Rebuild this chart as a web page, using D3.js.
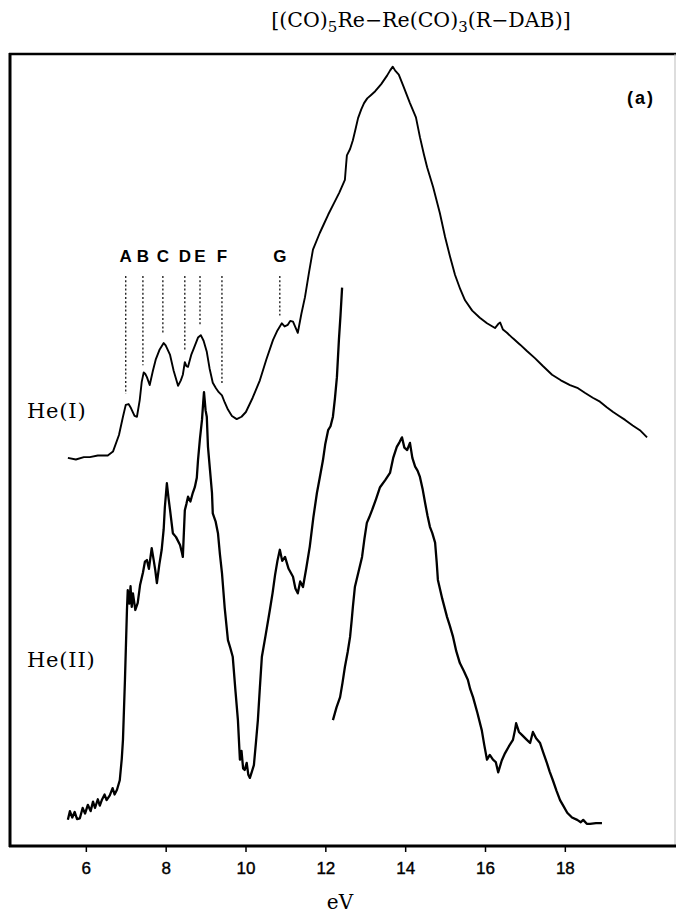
<!DOCTYPE html>
<html>
<head>
<meta charset="utf-8">
<script src="https://cdn.jsdelivr.net/npm/d3@7"></script>
<style>
  html, body { margin: 0; padding: 0; background: #fff; }
  svg { display: block; }
</style>
</head>
<body>
<svg id="chart" width="676" height="913"></svg>
<script>
// Photoelectron spectrum of [(CO)5Re-Re(CO)3(R-DAB)]: intensity (arb. units) vs binding energy (eV)

// He(I) spectrum, [eV, intensity]
const heI = [
  [5.55,49.0],[5.75,48.8],[5.95,49.1],[6.10,49.1],[6.30,49.3],[6.55,49.3],[6.68,49.8],
  [6.83,51.9],[6.93,54.2],[7.00,55.7],[7.07,55.8],[7.13,55.3],[7.22,54.3],[7.28,54.2],
  [7.35,56.3],[7.40,58.6],[7.45,59.8],[7.49,59.6],[7.53,59.2],[7.60,58.2],[7.68,60.0],
  [7.75,61.4],[7.85,62.7],[7.95,63.5],[8.00,63.2],[8.11,62.0],[8.20,60.0],[8.31,58.1],
  [8.38,58.8],[8.43,59.5],[8.48,61.1],[8.52,60.6],[8.56,60.5],[8.64,62.0],[8.71,62.9],
  [8.81,64.2],[8.88,64.5],[8.95,63.8],[9.03,62.4],[9.10,60.3],[9.18,58.5],[9.26,57.8],
  [9.33,57.3],[9.41,56.9],[9.48,56.0],[9.56,55.1],[9.66,54.3],[9.78,53.9],[9.90,54.2],
  [10.01,54.8],[10.18,56.6],[10.36,58.8],[10.52,61.4],[10.69,63.9],[10.80,65.1],[10.91,66.0],
  [10.98,65.6],[11.06,65.8],[11.12,66.3],[11.19,66.2],[11.26,65.4],[11.31,64.8],[11.40,67.2],
  [11.49,69.3],[11.59,72.4],[11.69,75.3],[11.86,77.4],[11.97,78.6],[12.07,79.7],[12.22,81.2],
  [12.35,82.5],[12.49,84.1],[12.52,86.0],[12.54,87.2],[12.62,88.0],[12.69,89.1],[12.76,90.6],
  [12.82,91.9],[12.90,93.0],[12.97,93.8],[13.05,94.4],[13.14,94.8],[13.25,95.3],[13.40,96.2],
  [13.55,97.3],[13.62,97.9],[13.69,98.4],[13.75,97.9],[13.84,97.4],[13.95,96.0],[14.12,93.8],
  [14.27,92.0],[14.37,89.5],[14.47,87.3],[14.55,85.7],[14.70,83.2],[14.87,79.9],[15.00,76.9],
  [15.12,74.5],[15.25,72.1],[15.38,70.3],[15.50,68.9],[15.68,67.6],[15.87,66.7],[16.05,66.0],
  [16.25,65.4],[16.33,65.9],[16.38,66.1],[16.45,65.2],[16.55,64.8],[16.70,64.1],[16.88,63.3],
  [17.05,62.5],[17.25,61.6],[17.45,60.6],[17.68,59.5],[17.90,58.8],[18.13,58.2],[18.33,57.8],
  [18.51,57.2],[18.70,56.6],[18.88,56.1],[19.05,55.4],[19.21,54.8],[19.36,54.3],[19.51,53.8],
  [19.70,53.1],[19.88,52.5],[20.06,51.6]
];

// He(II) spectrum, lower-energy scan, [eV, intensity]
const heIILow = [
  [5.55,3.3],[5.60,4.4],[5.66,3.6],[5.72,4.3],[5.78,3.4],[5.85,3.5],[5.92,4.8],[5.98,4.1],
  [6.05,5.2],[6.12,4.4],[6.18,5.6],[6.23,4.8],[6.30,5.9],[6.35,5.1],[6.40,5.8],[6.47,6.5],
  [6.52,5.8],[6.60,6.4],[6.67,7.3],[6.72,6.5],[6.78,7.1],[6.85,8.3],[6.90,11.0],[6.93,13.4],
  [6.98,21.0],[7.03,29.8],[7.05,32.3],[7.09,30.6],[7.12,32.8],[7.15,30.2],[7.18,31.9],
  [7.24,29.8],[7.30,30.7],[7.36,33.0],[7.43,34.5],[7.48,35.9],[7.53,36.1],[7.58,35.0],
  [7.65,37.6],[7.70,36.1],[7.74,34.8],[7.78,33.2],[7.84,35.5],[7.90,37.4],[7.95,40.0],
  [7.98,42.8],[8.03,45.8],[8.07,44.0],[8.11,42.4],[8.18,39.5],[8.26,39.0],[8.36,38.0],
  [8.40,37.2],[8.43,36.5],[8.48,42.4],[8.52,43.2],[8.56,44.1],[8.62,43.5],[8.68,44.6],
  [8.73,45.3],[8.78,46.5],[8.81,48.7],[8.86,51.5],[8.91,53.8],[8.94,56.0],[8.96,57.3],
  [9.00,55.0],[9.03,54.2],[9.06,50.4],[9.11,47.5],[9.16,44.6],[9.18,42.0],[9.25,41.0],
  [9.31,39.5],[9.36,36.8],[9.41,34.5],[9.48,30.0],[9.56,26.0],[9.62,25.0],[9.68,23.9],
  [9.75,19.5],[9.81,15.9],[9.86,10.9],[9.90,12.0],[9.94,9.8],[9.98,9.6],[10.03,10.5],
  [10.07,9.0],[10.11,8.6],[10.16,9.4],[10.21,10.2],[10.26,13.0],[10.31,15.9],[10.36,20.0],
  [10.41,23.9],[10.50,26.5],[10.61,29.8],[10.68,32.0],[10.74,34.2],[10.80,36.0],[10.86,37.4],
  [10.92,36.0],[10.99,36.5],[11.08,35.0],[11.19,34.0],[11.25,32.5],[11.31,31.9],[11.37,33.4],
  [11.44,32.7],[11.52,35.0],[11.61,37.8],[11.70,41.5],[11.79,44.6],[11.86,46.5],[11.94,48.7],
  [12.00,50.8],[12.07,52.5],[12.13,53.0],[12.19,54.2],[12.24,56.5],[12.29,59.2],[12.34,63.9],
  [12.38,67.0],[12.42,70.5]
];

// He(II) spectrum, higher-energy scan, [eV, intensity]
const heIIHigh = [
  [12.19,15.9],[12.28,17.5],[12.37,18.8],[12.43,20.6],[12.49,22.6],[12.56,24.5],[12.62,26.4],
  [12.66,28.5],[12.69,30.2],[12.74,32.7],[12.83,34.6],[12.92,36.5],[12.98,38.8],[13.04,40.8],
  [13.10,41.5],[13.17,42.4],[13.27,43.8],[13.37,45.3],[13.50,46.2],[13.62,47.1],[13.70,49.0],
  [13.79,50.4],[13.86,51.0],[13.92,51.6],[13.98,50.3],[14.05,50.0],[14.12,50.9],[14.18,49.0],
  [14.25,47.9],[14.31,47.4],[14.37,46.6],[14.44,45.0],[14.50,43.3],[14.56,41.7],[14.62,40.3],
  [14.68,39.5],[14.75,38.3],[14.79,35.8],[14.82,33.6],[14.93,31.2],[15.05,28.9],[15.12,27.8],
  [15.20,26.4],[15.28,24.6],[15.37,23.1],[15.47,22.1],[15.57,21.0],[15.63,19.8],[15.70,18.8],
  [15.81,16.8],[15.92,14.6],[15.98,12.8],[16.05,10.9],[16.12,11.5],[16.20,10.9],[16.27,10.6],
  [16.33,9.3],[16.42,10.8],[16.50,11.7],[16.60,12.6],[16.70,13.4],[16.75,14.6],[16.78,15.5],
  [16.85,14.4],[16.93,14.0],[17.03,13.5],[17.13,13.0],[17.20,14.4],[17.28,13.6],[17.38,13.0],
  [17.46,11.8],[17.55,10.5],[17.62,9.4],[17.70,8.3],[17.79,7.0],[17.88,5.8],[17.97,5.0],
  [18.06,4.2],[18.18,3.6],[18.31,3.3],[18.40,3.0],[18.46,3.3],[18.55,2.8],[18.63,2.8],
  [18.78,2.9],[18.93,2.9]
];

// Band assignments marked on the He(I) spectrum
const bandLabels   = ["A", "B", "C", "D", "E", "F", "G"];
const bandEnergies = [7.00, 7.43, 7.93, 8.48, 8.86, 9.41, 10.86];

// Energy axis ticks
const tickValues = [6, 8, 10, 12, 14, 16, 18];

const svg = d3.select("#chart");

const x = d3.scaleLinear().domain([4.1, 20.76]).range([10, 675]);
const y = d3.scaleLinear().domain([0, 100]).range([846, 54]);

const line = d3.line().x(d => x(d[0])).y(d => y(d[1]));

// Frame
svg.append("line").attr("x1", 10).attr("x2", 10).attr("y1", 53).attr("y2", 847)
  .attr("stroke", "#000").attr("stroke-width", 3);
svg.append("line").attr("x1", 9).attr("x2", 676).attr("y1", 54).attr("y2", 54)
  .attr("stroke", "#000").attr("stroke-width", 2.5);
svg.append("line").attr("x1", 675).attr("x2", 675).attr("y1", 54).attr("y2", 846)
  .attr("stroke", "#bbb").attr("stroke-width", 1);

// Energy axis
const axis = d3.axisBottom(x).tickValues(tickValues).tickSize(6).tickPadding(10)
  .tickFormat(d3.format("d"));
const gx = svg.append("g").attr("transform", "translate(0,846)").call(axis);
gx.select(".domain").remove();
svg.append("line").attr("x1", 9).attr("x2", 676).attr("y1", 846).attr("y2", 846)
  .attr("stroke", "#000").attr("stroke-width", 3);
gx.selectAll(".tick line").attr("stroke", "#000").attr("stroke-width", 1.5);
gx.selectAll(".tick text")
  .attr("font-family", "'Liberation Sans', Arial, sans-serif")
  .attr("font-size", 17).attr("fill", "#000")
  .attr("stroke", "#000").attr("stroke-width", 0.4);

svg.append("text").attr("x", 340).attr("y", 909)
  .attr("text-anchor", "middle")
  .attr("font-family", "'DejaVu Serif', serif").attr("font-size", 20)
  .text("eV");

// Spectra
svg.append("path").datum(heI).attr("d", line)
  .attr("fill", "none").attr("stroke", "#000").attr("stroke-width", 1.9)
  .attr("stroke-linejoin", "round");
[heIILow, heIIHigh].forEach(s => {
  svg.append("path").datum(s).attr("d", line)
    .attr("fill", "none").attr("stroke", "#000").attr("stroke-width", 2.3)
    .attr("stroke-linejoin", "round");
});

// Dotted band markers ending just above the He(I) trace
const heIAt = e => {
  const i = d3.bisector(d => d[0]).left(heI, e);
  const a = heI[Math.max(0, i - 1)], b = heI[Math.min(heI.length - 1, i)];
  const t = b[0] === a[0] ? 0 : (e - a[0]) / (b[0] - a[0]);
  return a[1] + t * (b[1] - a[1]);
};
const markers = svg.append("g");
bandEnergies.forEach((e, i) => {
  markers.append("line")
    .attr("x1", x(e)).attr("x2", x(e))
    .attr("y1", 276).attr("y2", y(heIAt(e)) - 11)
    .attr("stroke", "#000").attr("stroke-width", 1.2)
    .attr("stroke-dasharray", "2,2.2");
  markers.append("text")
    .attr("x", x(e)).attr("y", 262)
    .attr("text-anchor", "middle")
    .attr("font-family", "'Liberation Sans', Arial, sans-serif")
    .attr("font-weight", "bold").attr("font-size", 17)
    .text(bandLabels[i]);
});

// Spectrum labels
const serif = "'DejaVu Serif', serif";
svg.append("text").attr("x", 27).attr("y", 418)
  .attr("font-family", serif).attr("font-size", 21).attr("letter-spacing", 0.8)
  .text("He(I)");
svg.append("text").attr("x", 27).attr("y", 667)
  .attr("font-family", serif).attr("font-size", 21).attr("letter-spacing", 0.8)
  .text("He(II)");

svg.append("text").attr("x", 641).attr("y", 104)
  .attr("text-anchor", "middle")
  .attr("font-family", "'Liberation Sans', Arial, sans-serif")
  .attr("font-weight", "bold").attr("font-size", 18)
  .attr("letter-spacing", 2)
  .text("(a)");

// Compound formula
const title = svg.append("text").attr("x", 421).attr("y", 27)
  .attr("text-anchor", "middle")
  .attr("font-family", serif).attr("font-size", 20.5);
title.append("tspan").text("[(CO)");
title.append("tspan").attr("dy", 5).attr("font-size", 15).text("5");
title.append("tspan").attr("dy", -5).text("Re\u2212Re(CO)");
title.append("tspan").attr("dy", 5).attr("font-size", 15).text("3");
title.append("tspan").attr("dy", -5).text("(R\u2212DAB)]");
</script>
</body>
</html>
